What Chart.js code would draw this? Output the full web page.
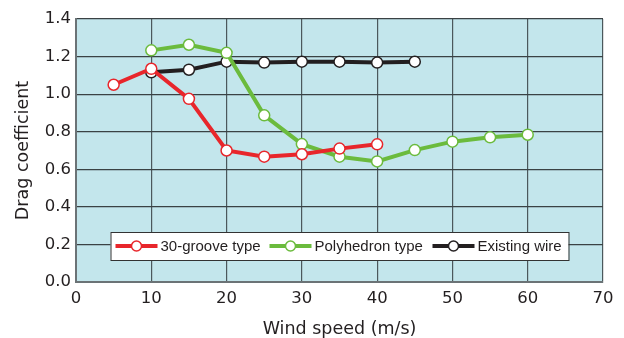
<!DOCTYPE html>
<html>
<head>
<meta charset="utf-8">
<script src="https://cdn.jsdelivr.net/npm/chart.js@4"></script>
<style>
  html, body { margin: 0; padding: 0; background: #fff; }
  #wrap { width: 624px; height: 338px; }
</style>
</head>
<body>
<div id="wrap"><canvas id="c" width="624" height="338"></canvas></div>
<script>
const FONT = '"DejaVu Sans", Arial, sans-serif';
const LEGEND_FONT = '"Liberation Sans", Arial, sans-serif';

// wind speed (m/s)
const grooveX = [5, 10, 15, 20, 25, 30, 35, 40];
const grooveY = [1.05, 1.135, 0.975, 0.70, 0.667, 0.68, 0.71, 0.733];

const polyX = [10, 15, 20, 25, 30, 35, 40, 45, 50, 55, 60];
const polyY = [1.233, 1.263, 1.22, 0.887, 0.734, 0.667, 0.642, 0.702, 0.747, 0.77, 0.784];

const wireX = [10, 15, 20, 25, 30, 35, 40, 45];
const wireY = [1.116, 1.13, 1.173, 1.168, 1.173, 1.173, 1.168, 1.173];

const seriesNames = ['30-groove type', 'Polyhedron type', 'Existing wire'];
const seriesColors = ['#e8262b', '#6bbb3d', '#231f20'];

function pts(xs, ys) {
  return xs.map((x, i) => ({ x: x, y: ys[i] }));
}

function makeSet(i, xs, ys) {
  return {
    label: seriesNames[i],
    data: pts(xs, ys),
    borderColor: seriesColors[i],
    borderWidth: 4,
    pointRadius: 5.5,
    pointBorderWidth: 1.5,
    pointBackgroundColor: '#fff',
    pointBorderColor: seriesColors[i],
    tension: 0
  };
}

// light blue plot background
const bgPlugin = {
  id: 'bg',
  beforeDraw(chart) {
    const a = chart.chartArea;
    const ctx = chart.ctx;
    ctx.save();
    ctx.fillStyle = '#c3e6ec';
    ctx.fillRect(a.left, a.top, a.right - a.left, a.bottom - a.top);
    ctx.restore();
  }
};

// legend box inside the plot
const boxLegend = {
  id: 'boxLegend',
  afterDatasetsDraw(chart) {
    const a = chart.chartArea;
    const ctx = chart.ctx;
    const w = 458, h = 28;
    const cx = (a.left + a.right) / 2;
    const x0 = cx - w / 2;
    const y0 = a.bottom - 36 - h / 2;
    ctx.save();
    ctx.fillStyle = '#fff';
    ctx.fillRect(x0, y0, w, h);
    ctx.strokeStyle = '#333';
    ctx.lineWidth = 1;
    ctx.strokeRect(x0 + 0.5, y0 + 0.5, w, h);
    ctx.font = '15px ' + LEGEND_FONT;
    ctx.textBaseline = 'middle';
    const offs = [5, 159, 322];
    const cy = y0 + h / 2;
    seriesNames.forEach((name, i) => {
      const sx = x0 + offs[i];
      ctx.strokeStyle = seriesColors[i];
      ctx.lineWidth = 4;
      ctx.beginPath();
      ctx.moveTo(sx, cy);
      ctx.lineTo(sx + 42, cy);
      ctx.stroke();
      ctx.beginPath();
      ctx.arc(sx + 21, cy, 5, 0, Math.PI * 2);
      ctx.fillStyle = '#fff';
      ctx.fill();
      ctx.lineWidth = 1.5;
      ctx.stroke();
      ctx.fillStyle = '#231f20';
      ctx.fillText(name, sx + 45, cy + 1);
    });
    ctx.restore();
  }
};

new Chart(document.getElementById('c'), {
  type: 'line',
  data: {
    datasets: [
      makeSet(0, grooveX, grooveY),
      makeSet(1, polyX, polyY),
      makeSet(2, wireX, wireY)
    ]
  },
  options: {
    responsive: false,
    animation: false,
    layout: { padding: { left: 0, top: 19, right: 21, bottom: 0 } },
    plugins: {
      legend: { display: false },
      tooltip: { enabled: false }
    },
    scales: {
      x: {
        type: 'linear',
        min: 0, max: 70,
        ticks: {
          stepSize: 10,
          color: '#231f20',
          font: { family: FONT, size: 16.5 },
          padding: 7
        },
        grid: { color: '#4b585c', lineWidth: 1.2, drawTicks: false },
        border: { color: '#6b7376', width: 2 },
        title: {
          display: true,
          text: 'Wind speed (m/s)',
          color: '#231f20',
          font: { family: FONT, size: 17.5 },
          padding: { top: 0, bottom: -2 }
        },
        afterFit(s) { s.height = 56; }
      },
      y: {
        min: 0, max: 1.4,
        ticks: {
          stepSize: 0.2,
          color: '#231f20',
          font: { family: FONT, size: 16.5 },
          padding: 5,
          callback: v => v.toFixed(1)
        },
        grid: { color: '#3a4244', lineWidth: 1.2, drawTicks: false },
        border: { color: '#6b7376', width: 2 },
        title: {
          display: true,
          text: 'Drag coefficient',
          color: '#231f20',
          font: { family: FONT, size: 17.5 },
          padding: { top: 13, bottom: 4 }
        },
        afterFit(s) { s.width = 76; }
      }
    }
  },
  plugins: [bgPlugin, boxLegend]
});
</script>
</body>
</html>
